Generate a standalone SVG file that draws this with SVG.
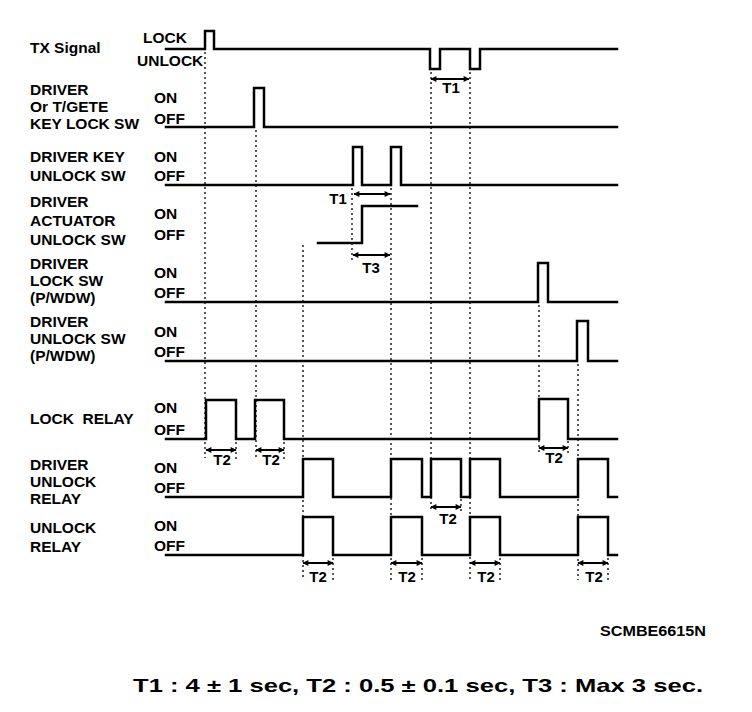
<svg xmlns="http://www.w3.org/2000/svg" width="752" height="712" viewBox="0 0 752 712">
<defs>
<style>
.lbl{font-family:"Liberation Sans",Arial,sans-serif;font-weight:bold;font-size:15.5px;fill:#000}
.wave{fill:none;stroke:#000;stroke-width:2.5;stroke-linejoin:miter;stroke-linecap:square}
.guide{fill:none;stroke:#000;stroke-width:1.3;stroke-dasharray:2 3}
.dim{fill:none;stroke:#000;stroke-width:2;marker-start:url(#ah);marker-end:url(#ah)}
.tl{font-family:"Liberation Sans",Arial,sans-serif;font-weight:bold;font-size:15px;fill:#000;text-anchor:middle}
</style>
<marker id="ah" viewBox="0 0 10 10" refX="9" refY="5" markerUnits="userSpaceOnUse" markerWidth="7" markerHeight="6" orient="auto-start-reverse">
<path d="M0,0 L10,5 L0,10 z" fill="#000"/>
</marker>
</defs>
<rect width="752" height="712" fill="#fff"/>

<g id="guides">
<path class="guide" d="M205,52 V458 M236,442 V460 M256,130 V458 M284,442 V460 M303,245 V580 M333,558 V580 M352,188 V260 M391,188 V580 M422,558 V580 M431,72 V510 M461,499 V512 M470,72 V580 M500,558 V580 M539,305 V455 M568,441 V455 M578,364 V580 M608,558 V580"/>
</g>

<g id="tx-signal">
<text class="lbl" x="30" y="53">TX Signal</text>
<text class="lbl" x="143" y="43">LOCK</text>
<text class="lbl" x="137" y="66">UNLOCK</text>
<path class="wave" d="M166,49 H205 V31 H214 V49 H430 V69 H440 V49 H470 V69 H480 V49 H617"/>
</g>

<g id="key-lock-sw">
<text class="lbl" x="30" y="95">DRIVER</text>
<text class="lbl" x="30" y="112">Or T/GETE</text>
<text class="lbl" x="30" y="129">KEY LOCK SW</text>
<text class="lbl" x="154" y="103">ON</text>
<text class="lbl" x="154" y="124">OFF</text>
<path class="wave" d="M166,127 H254 V88 H264 V127 H617"/>
</g>

<g id="key-unlock-sw">
<text class="lbl" x="30" y="162">DRIVER KEY</text>
<text class="lbl" x="30" y="181">UNLOCK SW</text>
<text class="lbl" x="154" y="162">ON</text>
<text class="lbl" x="154" y="181">OFF</text>
<path class="wave" d="M166,185 H353 V147 H362 V185 H391 V147 H401 V185 H617"/>
</g>

<g id="actuator-unlock-sw">
<text class="lbl" x="30" y="207">DRIVER</text>
<text class="lbl" x="30" y="226">ACTUATOR</text>
<text class="lbl" x="30" y="245">UNLOCK SW</text>
<text class="lbl" x="154" y="219">ON</text>
<text class="lbl" x="154" y="240">OFF</text>
<path class="wave" d="M318,243 H362 V206 H417"/>
</g>

<g id="lock-sw-pwdw">
<text class="lbl" x="30" y="269">DRIVER</text>
<text class="lbl" x="30" y="286">LOCK SW</text>
<text class="lbl" x="30" y="303">(P/WDW)</text>
<text class="lbl" x="154" y="278">ON</text>
<text class="lbl" x="154" y="298">OFF</text>
<path class="wave" d="M166,302 H538 V263 H548 V302 H617"/>
</g>

<g id="unlock-sw-pwdw">
<text class="lbl" x="30" y="327">DRIVER</text>
<text class="lbl" x="30" y="344">UNLOCK SW</text>
<text class="lbl" x="30" y="361">(P/WDW)</text>
<text class="lbl" x="154" y="337">ON</text>
<text class="lbl" x="154" y="357">OFF</text>
<path class="wave" d="M166,361 H577 V321 H588 V361 H617"/>
</g>

<g id="lock-relay">
<text class="lbl" x="30" y="424" xml:space="preserve">LOCK  RELAY</text>
<text class="lbl" x="154" y="413">ON</text>
<text class="lbl" x="154" y="435">OFF</text>
<path class="wave" d="M166,439 H206 V400 H236 V439 H255 V400 H284 V439 H539 V399 H568 V439 H617"/>
</g>

<g id="driver-unlock-relay">
<text class="lbl" x="30" y="470">DRIVER</text>
<text class="lbl" x="30" y="487">UNLOCK</text>
<text class="lbl" x="30" y="504">RELAY</text>
<text class="lbl" x="154" y="473">ON</text>
<text class="lbl" x="154" y="493">OFF</text>
<path class="wave" d="M166,497 H303 V459 H333 V497 H391 V459 H422 V497 H431 V459 H461 V497 H470 V459 H500 V497 H578 V459 H608 V497 H617"/>
</g>

<g id="unlock-relay">
<text class="lbl" x="30" y="533">UNLOCK</text>
<text class="lbl" x="30" y="552">RELAY</text>
<text class="lbl" x="154" y="531">ON</text>
<text class="lbl" x="154" y="551">OFF</text>
<path class="wave" d="M166,555 H303 V517 H333 V555 H391 V517 H422 V555 H470 V517 H500 V555 H578 V517 H608 V555 H617"/>
</g>

<g id="connectors">
<path class="dim" d="M431,79 H469"/>
<text class="tl" x="451" y="93">T1</text>
<path class="dim" d="M354,194 H390"/>
<text class="tl" x="338" y="204">T1</text>
<path class="dim" d="M353,255 H390"/>
<text class="tl" x="371" y="273">T3</text>
<path class="dim" d="M206,450 H236"/>
<text class="tl" x="222" y="465">T2</text>
<path class="dim" d="M256,450 H284"/>
<text class="tl" x="271" y="465">T2</text>
<path class="dim" d="M539,448 H568"/>
<text class="tl" x="554" y="463">T2</text>
<path class="dim" d="M431,507 H461"/>
<text class="tl" x="448" y="524">T2</text>
<path class="dim" d="M303,563 H333"/>
<text class="tl" x="318" y="582">T2</text>
<path class="dim" d="M391,563 H422"/>
<text class="tl" x="407" y="582">T2</text>
<path class="dim" d="M470,563 H500"/>
<text class="tl" x="486" y="582">T2</text>
<path class="dim" d="M578,563 H608"/>
<text class="tl" x="594" y="582">T2</text>
</g>

<g id="footer">
<text class="lbl" x="600" y="636" textLength="106" lengthAdjust="spacingAndGlyphs" style="font-size:14px">SCMBE6615N</text>
<text class="lbl" x="133" y="692" textLength="570" lengthAdjust="spacingAndGlyphs" style="font-size:19px">T1 : 4 ± 1 sec, T2 : 0.5 ± 0.1 sec, T3 : Max 3 sec.</text>
</g>
</svg>
